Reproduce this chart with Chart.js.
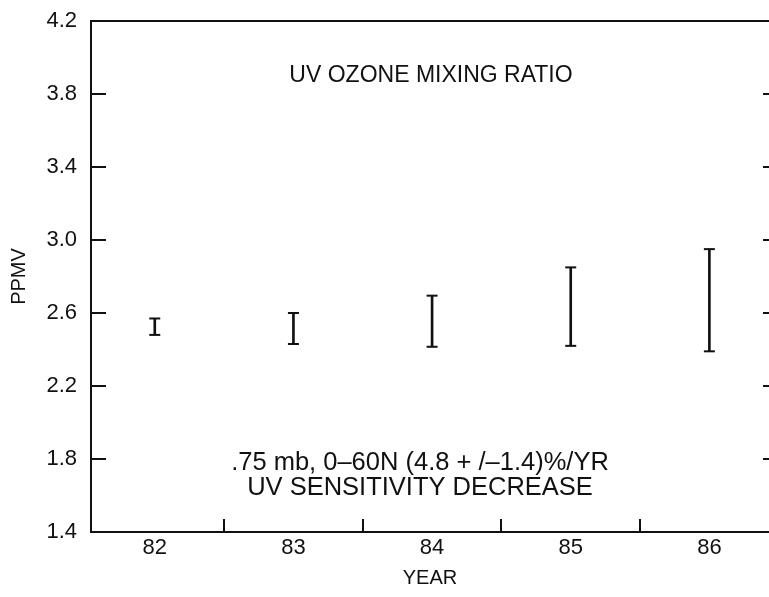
<!DOCTYPE html>
<html>
<head>
<meta charset="utf-8">
<script src="https://cdn.jsdelivr.net/npm/chart.js@4/dist/chart.umd.min.js"></script>
<style>
  html, body { margin: 0; padding: 0; background: #fff; overflow: hidden; }
  canvas { display: block; }
</style>
</head>
<body>
<canvas id="c" width="769" height="597"></canvas>
<script>
// Yearly ozone mixing ratio ranges (ppmv), 0-60N at .75 mb
const years = [82, 83, 84, 85, 86];
const lowerPpmv = [2.48, 2.43, 2.415, 2.42, 2.39];
const upperPpmv = [2.57, 2.60, 2.695, 2.85, 2.95];

// Axis ticks
const ppmvTicks = [1.4, 1.8, 2.2, 2.6, 3.0, 3.4, 3.8, 4.2];
const yearDividers = [82.5, 83.5, 84.5, 85.5];

const titleText = 'UV OZONE MIXING RATIO';
const noteLines = ['.75 mb, 0\u201360N (4.8 + /\u20131.4)%/YR', 'UV SENSITIVITY DECREASE'];

const INK = '#111';
const FONT = '"Liberation Sans", Arial, Helvetica, sans-serif';

// Range bars (vertical stems) and their end caps
const stems = years.map((x, i) => ({ x: x, y: [lowerPpmv[i], upperPpmv[i]] }));
const caps = [];
years.forEach((x, i) => {
  caps.push({ x: x, y: lowerPpmv[i] });
  caps.push({ x: x, y: upperPpmv[i] });
});

// Open frame (left, top, bottom) with inward-pointing tick marks
const framePlugin = {
  id: 'frame',
  afterDatasetsDraw(chart) {
    const { ctx, chartArea: a, scales } = chart;
    ctx.save();
    ctx.strokeStyle = INK;
    ctx.lineWidth = 2;
    ctx.beginPath();
    ctx.moveTo(a.right, a.top);
    ctx.lineTo(a.left, a.top);
    ctx.lineTo(a.left, a.bottom);
    ctx.lineTo(a.right, a.bottom);
    ppmvTicks.slice(1, -1).forEach(v => {
      const py = Math.round(scales.y.getPixelForValue(v));
      ctx.moveTo(a.left, py); ctx.lineTo(a.left + 15, py);
      ctx.moveTo(a.right, py); ctx.lineTo(a.right - 6, py);
    });
    yearDividers.forEach(v => {
      const px = Math.round(scales.x.getPixelForValue(v));
      ctx.moveTo(px, a.bottom); ctx.lineTo(px, a.bottom - 13);
    });
    ctx.stroke();
    ctx.restore();
  }
};

// Heading and note inside the plot box
const textPlugin = {
  id: 'labels',
  afterDraw(chart) {
    const { ctx, chartArea: a } = chart;
    ctx.save();
    ctx.fillStyle = INK;
    ctx.textAlign = 'center';
    ctx.textBaseline = 'middle';
    ctx.font = '23px ' + FONT;
    ctx.fillText(titleText, 431, a.top + 55);
    ctx.font = '25.5px ' + FONT;
    ctx.fillText(noteLines[0], 420, a.top + 442);
    ctx.fillText(noteLines[1], 420, a.top + 467);
    ctx.restore();
  }
};

new Chart(document.getElementById('c'), {
  type: 'bar',
  data: {
    datasets: [
      {
        type: 'bar',
        data: stems,
        backgroundColor: INK,
        borderWidth: 0,
        barThickness: 2
      },
      {
        type: 'scatter',
        data: caps,
        pointStyle: 'line',
        radius: 5.5,
        hoverRadius: 5.5,
        borderWidth: 2,
        borderColor: INK,
        backgroundColor: INK
      }
    ]
  },
  options: {
    responsive: false,
    animation: false,
    events: [],
    layout: { autoPadding: false, padding: { top: 21, right: 0, left: 0, bottom: 0 } },
    plugins: { legend: { display: false }, tooltip: { enabled: false } },
    scales: {
      x: {
        type: 'linear',
        offset: false,
        min: 81.54,
        max: 86.43,
        afterBuildTicks: s => { s.ticks = years.map(v => ({ value: v })); },
        afterFit: s => { s.height = 65; s.paddingLeft = 0; s.paddingRight = 0; },
        grid: { display: false, drawTicks: false, offset: false },
        border: { display: false },
        ticks: { color: INK, font: { family: FONT, size: 22 }, padding: 3, maxRotation: 0 },
        title: { display: true, text: 'YEAR', color: INK, font: { family: FONT, size: 20 }, padding: { top: 0, bottom: 7 } }
      },
      y: {
        min: 1.4,
        max: 4.2,
        afterBuildTicks: s => { s.ticks = ppmvTicks.map(v => ({ value: v })); },
        afterFit: s => { s.width = 91; s.paddingTop = 0; s.paddingBottom = 0; },
        grid: { display: false, drawTicks: false },
        border: { display: false },
        ticks: { color: INK, font: { family: FONT, size: 22 }, padding: 14, callback: v => v.toFixed(1) },
        title: { display: true, text: 'PPMV', color: INK, font: { family: FONT, size: 20 }, padding: { top: 7, bottom: 0 } }
      }
    }
  },
  plugins: [framePlugin, textPlugin]
});
</script>
</body>
</html>
